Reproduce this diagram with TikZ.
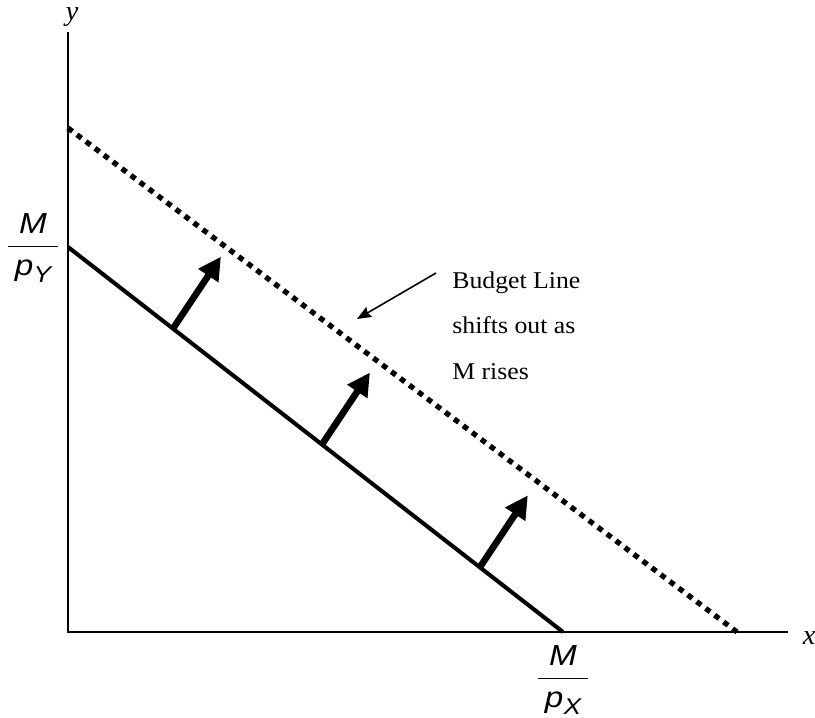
\documentclass[tikz,border=0pt]{standalone}
\usepackage{fontspec}
\setmainfont{Liberation Serif}
\newfontfamily\notefont[FakeStretch=1.07]{Liberation Serif}
\newfontfamily\arialfont[FakeStretch=1.15]{Liberation Sans}
\usetikzlibrary{arrows.meta}

\newcommand{\sfit}[1]{\hbox to 28pt{\hfil\arialfont\itshape #1\hfil}}
\newcommand{\priceratio}[1]{$\displaystyle\frac{\sfit{M}}{\sfit{p\raisebox{-0.45ex}{\fontsize{13}{13}\selectfont #1}}}$}

\begin{document}
\begin{tikzpicture}[x=0.02cm,y=-0.02cm,line cap=butt,
  axis/.style={line width=1.1pt},
  budget/.style={line width=2.3pt},
  shifted/.style={line width=3pt,dash pattern=on 3.2pt off 3.2pt},
  push/.style={line width=3.8pt,-{Triangle[length=13pt,width=13pt]}},
  pointer/.style={line width=0.9pt,-{Stealth[length=8pt,width=6.5pt,inset=1pt]}},
  every node/.style={inner sep=1pt}]
  \useasboundingbox (0,0) rectangle (815,717);
  % axes
  \coordinate (O) at (68,632);
  \coordinate (ytop) at (68,32);
  \coordinate (xend) at (788,632);
  \draw[axis] (ytop) -- (O) -- (xend);
  \node[font=\fontsize{16}{16}\selectfont\itshape] (ylab) at (72,17) {y};
  \node[font=\fontsize{16}{16}\selectfont\itshape] (xlab) at (809,638) {x};
  % budget lines
  \coordinate (B1) at (68,247);
  \coordinate (B2) at (563,632);
  \coordinate (S1) at (68,128);
  \coordinate (S2) at (737,632);
  \draw[budget] (B1) -- (B2);
  \draw[shifted] (S1) -- (S2);
  \node[font=\fontsize{16.5}{18}\selectfont] (yint) at (33,248) {\priceratio{Y}};
  \node[font=\fontsize{16.5}{18}\selectfont] (xint) at (563,680) {\priceratio{X}};
  % shift arrows
  \foreach \t [count=\i] in {0.212,0.513,0.832} {
    \path (B1) -- (B2) coordinate[pos=\t] (tail\i);
    \draw[push] (tail\i) -- ++(48,-72) coordinate (tip\i);
  }
  % note
  \node[anchor=north west,align=left,inner sep=0pt,
    font=\notefont\fontsize{13.7}{26}\selectfont] (note) at (452,271)
    {Budget Line\\shifts out as\\M rises};
  \coordinate (notetail) at (436,273);
  \coordinate (notetip) at (357,319);
  \draw[pointer] (notetail) -- (notetip);
\end{tikzpicture}
\end{document}
